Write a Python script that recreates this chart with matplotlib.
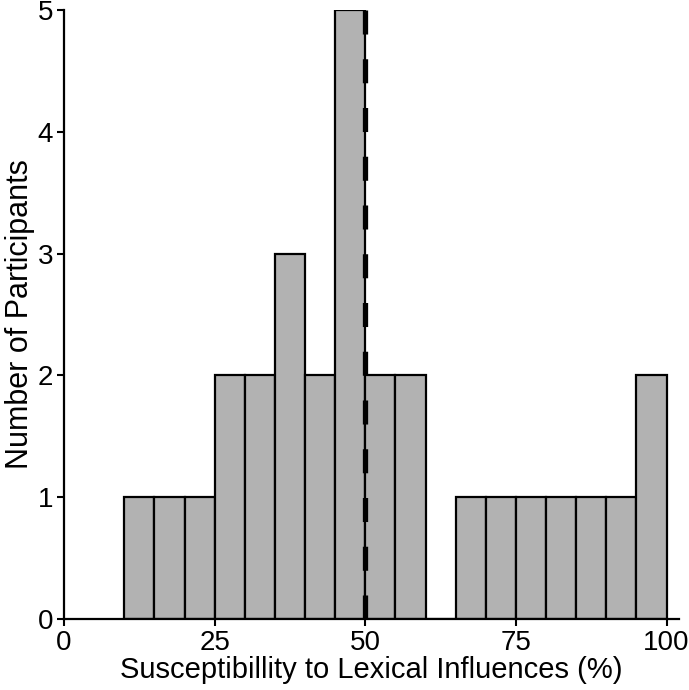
import matplotlib.pyplot as plt

# histogram of susceptibility scores, bins of 5%
bin_left = [10, 15, 20, 25, 30, 35, 40, 45, 50, 55, 60, 65, 70, 75, 80, 85, 90, 95]
counts = [1, 1, 1, 2, 2, 3, 2, 5, 2, 2, 0, 1, 1, 1, 1, 1, 1, 2]
bin_width = 5
chance_level = 50

xticks = [0, 25, 50, 75, 100]
yticks = [0, 1, 2, 3, 4, 5]

plt.rcParams['font.family'] = ['Liberation Sans', 'DejaVu Sans']
plt.rcParams['lines.scale_dashes'] = False

fig = plt.figure(figsize=(6.89, 6.9), dpi=100)
ax = fig.add_axes([0.093, 0.103, 0.892, 0.8825])

ax.bar(bin_left, counts, width=bin_width, align='edge',
       color='#b2b2b2', edgecolor='black', linewidth=1.6, zorder=2)

# dashed reference line at 50%
ax.plot([chance_level, chance_level], [5, 0], color='black', linewidth=3.8,
        dashes=(17.3, 17.8), solid_capstyle='butt', dash_capstyle='butt',
        zorder=3, clip_on=False)

ax.set_xlim(0, 102)
ax.set_ylim(0, 5)
ax.set_xticks(xticks)
ax.set_yticks(yticks)

for side in ['top', 'right']:
    ax.spines[side].set_visible(False)
for side in ['left', 'bottom']:
    ax.spines[side].set_linewidth(1.6)

ax.tick_params(axis='both', direction='out', length=5, width=1.5,
               labelsize=20, pad=3)

ax.set_xlabel('Susceptibillity to Lexical Influences (%)', fontsize=21, labelpad=0)
ax.set_ylabel('Number of Participants', fontsize=22, labelpad=2)

fig.savefig('out.png', dpi=100)
